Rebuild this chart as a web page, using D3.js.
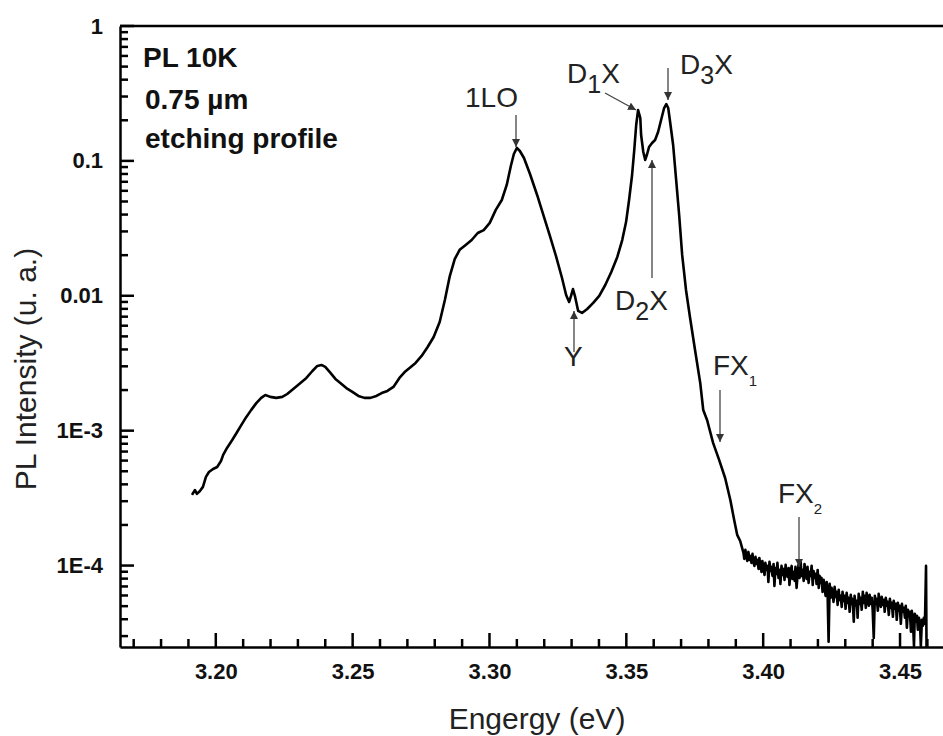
<!DOCTYPE html>
<html>
<head>
<meta charset="utf-8">
<script src="https://cdn.jsdelivr.net/npm/d3@7"></script>
<style>
  body { margin: 0; background: #fff; }
  svg { display: block; font-family: "Liberation Sans", Arial, sans-serif; }
</style>
</head>
<body>
<svg id="svg" width="943" height="736"></svg>
<script>
// PL spectrum, 10K
const energy = [
  3.1913, 3.1924, 3.1931, 3.1942, 3.1953, 3.1964, 3.1975, 3.1990, 3.2005, 3.2019,
  3.2027, 3.2041, 3.2060, 3.2078, 3.2093, 3.2111, 3.2129, 3.2148, 3.2166, 3.2181,
  3.2199, 3.2221, 3.2243, 3.2261, 3.2283, 3.2305, 3.2331, 3.2353, 3.2371, 3.2386,
  3.2400, 3.2419, 3.2437, 3.2455, 3.2477, 3.2499, 3.2521, 3.2543, 3.2565, 3.2587,
  3.2606, 3.2627, 3.2649, 3.2671, 3.2690, 3.2708, 3.2730, 3.2752, 3.2774, 3.2796,
  3.2818, 3.2837, 3.2855, 3.2873, 3.2891, 3.2913, 3.2935, 3.2957, 3.2979, 3.3001,
  3.3023, 3.3045, 3.3063, 3.3078, 3.3089, 3.3100, 3.3111, 3.3126, 3.3148, 3.3174,
  3.3199, 3.3221, 3.3243, 3.3265, 3.3280, 3.3291, 3.3298, 3.3305, 3.3313, 3.3324,
  3.3338, 3.3357, 3.3379, 3.3401, 3.3423, 3.3445, 3.3467, 3.3485, 3.3499, 3.3510,
  3.3521, 3.3529, 3.3536, 3.3543, 3.3551, 3.3554, 3.3562, 3.3569, 3.3576, 3.3583,
  3.3594, 3.3605, 3.3616, 3.3627, 3.3638, 3.3646, 3.3653, 3.3660, 3.3671, 3.3682,
  3.3693, 3.3704, 3.3718, 3.3733, 3.3751, 3.3770, 3.3781, 3.3795, 3.3817, 3.3839,
  3.3861, 3.3880, 3.3894, 3.3905, 3.3916
];
const intensity = [
  3.34e-4, 3.63e-4, 3.40e-4, 3.57e-4, 3.83e-4, 4.54e-4, 4.94e-4, 5.20e-4, 5.38e-4, 5.96e-4,
  6.61e-4, 7.44e-4, 8.53e-4, 9.78e-4, 1.10e-3, 1.26e-3, 1.42e-3, 1.60e-3, 1.75e-3, 1.84e-3,
  1.78e-3, 1.75e-3, 1.78e-3, 1.87e-3, 2.04e-3, 2.22e-3, 2.46e-3, 2.77e-3, 3.02e-3, 3.07e-3,
  2.97e-3, 2.68e-3, 2.42e-3, 2.26e-3, 2.07e-3, 1.94e-3, 1.81e-3, 1.75e-3, 1.75e-3, 1.81e-3,
  1.90e-3, 1.97e-3, 2.11e-3, 2.46e-3, 2.72e-3, 2.92e-3, 3.18e-3, 3.58e-3, 4.17e-3, 4.95e-3,
  6.39e-3, 9.30e-3, 1.40e-2, 1.87e-2, 2.19e-2, 2.38e-2, 2.59e-2, 2.92e-2, 3.07e-2, 3.47e-2,
  4.33e-2, 5.13e-2, 6.63e-2, 9.17e-2, 0.1125, 0.1247, 0.1184, 0.105, 0.080, 0.0559,
  0.0384, 0.0277, 0.0197, 0.01355, 0.01014, 0.0090, 0.00997, 0.01123, 0.0098, 0.00772,
  0.00746, 0.00798, 0.00885, 0.00997, 0.01202, 0.0150, 0.0194, 0.0259, 0.0352, 0.0513,
  0.0786, 0.1205, 0.1846, 0.2384, 0.208, 0.1556, 0.1164, 0.1016, 0.1125, 0.1268,
  0.1358, 0.1429, 0.1637, 0.201, 0.2466, 0.264, 0.2466, 0.1942, 0.1312, 0.0722,
  0.0397, 0.02007, 0.01104, 0.00684, 0.00396, 0.00226, 0.001423, 0.00120, 8.11e-4, 6.07e-4,
  4.46e-4, 3.06e-4, 2.18e-4, 1.69e-4, 1.52e-4
];
// noisy high-energy tail
const tailEnergy = [
  3.3928, 3.3931, 3.3935, 3.3939, 3.3942, 3.3946, 3.3950, 3.3953, 3.3957, 3.3961,
  3.3964, 3.3968, 3.3972, 3.3975, 3.3979, 3.3983, 3.3986, 3.3990, 3.3994, 3.3997,
  3.4001, 3.4005, 3.4008, 3.4012, 3.4016, 3.4019, 3.4023, 3.4027, 3.4030, 3.4034,
  3.4038, 3.4041, 3.4045, 3.4049, 3.4052, 3.4056, 3.4060, 3.4063, 3.4067, 3.4071,
  3.4074, 3.4078, 3.4082, 3.4085, 3.4089, 3.4093, 3.4096, 3.4100, 3.4104, 3.4107,
  3.4111, 3.4115, 3.4118, 3.4122, 3.4126, 3.4129, 3.4133, 3.4137, 3.4140, 3.4144,
  3.4148, 3.4151, 3.4155, 3.4159, 3.4162, 3.4166, 3.4170, 3.4173, 3.4177, 3.4181,
  3.4184, 3.4188, 3.4192, 3.4195, 3.4199, 3.4203, 3.4206, 3.4210, 3.4213, 3.4217,
  3.4221, 3.4224, 3.4228, 3.4232, 3.4235, 3.4239, 3.4243, 3.4246, 3.4250, 3.4254,
  3.4257, 3.4261, 3.4265, 3.4268, 3.4272, 3.4276, 3.4279, 3.4283, 3.4287, 3.4290,
  3.4294, 3.4298, 3.4301, 3.4305, 3.4309, 3.4312, 3.4316, 3.4320, 3.4323, 3.4327,
  3.4331, 3.4334, 3.4338, 3.4342, 3.4345, 3.4349, 3.4353, 3.4356, 3.4360, 3.4364,
  3.4367, 3.4371, 3.4375, 3.4378, 3.4382, 3.4386, 3.4389, 3.4393, 3.4397, 3.4400,
  3.4404, 3.4408, 3.4411, 3.4415, 3.4419, 3.4422, 3.4426, 3.4430, 3.4433, 3.4437,
  3.4441, 3.4444, 3.4448, 3.4452, 3.4455, 3.4459, 3.4463, 3.4466, 3.4470, 3.4474,
  3.4477, 3.4481, 3.4485, 3.4488, 3.4492, 3.4496, 3.4499, 3.4503, 3.4507, 3.4510,
  3.4514, 3.4518, 3.4521, 3.4525, 3.4529, 3.4532, 3.4536, 3.4540, 3.4543, 3.4547,
  3.4551, 3.4554, 3.4558, 3.4562, 3.4565, 3.4569, 3.4573, 3.4576, 3.4580, 3.4584,
  3.4587, 3.4591, 3.4595, 3.4598
];
// in units of 1e-4
const tailIntensity = [
  1.241, 1.120, 1.306, 1.159, 1.082, 1.262, 1.101, 1.179, 1.046, 1.220,
  1.064, 0.994, 1.159, 1.028, 1.101, 0.944, 1.139, 0.994, 0.897, 1.082,
  0.960, 0.852, 1.046, 0.928, 0.994, 0.756, 1.064, 0.912, 0.977, 0.838,
  1.028, 0.707, 0.960, 0.867, 1.046, 0.810, 0.928, 0.731, 0.994, 0.852,
  0.944, 0.783, 1.011, 0.882, 0.824, 0.960, 0.719, 0.912, 0.994, 0.796,
  0.897, 0.769, 0.977, 0.683, 0.867, 1.011, 0.810, 1.064, 0.838, 0.928,
  0.769, 1.028, 0.867, 0.796, 0.977, 0.744, 0.897, 0.838, 0.994, 0.719,
  0.912, 0.810, 0.867, 0.731, 0.928, 0.683, 0.838, 0.744, 0.810, 0.638,
  0.783, 0.707, 0.596, 0.756, 0.660, 0.272, 0.731, 0.576, 0.683, 0.617,
  0.538, 0.695, 0.586, 0.638, 0.511, 0.660, 0.557, 0.596, 0.494, 0.638,
  0.547, 0.596, 0.478, 0.627, 0.529, 0.576, 0.454, 0.606, 0.520, 0.566,
  0.383, 0.596, 0.503, 0.547, 0.410, 0.617, 0.520, 0.576, 0.470, 0.638,
  0.529, 0.596, 0.486, 0.627, 0.557, 0.503, 0.606, 0.520, 0.576, 0.470,
  0.291, 0.596, 0.520, 0.566, 0.462, 0.617, 0.529, 0.494, 0.586, 0.511,
  0.557, 0.454, 0.576, 0.503, 0.538, 0.431, 0.566, 0.486, 0.529, 0.417,
  0.547, 0.478, 0.520, 0.396, 0.529, 0.462, 0.503, 0.370, 0.520, 0.454,
  0.486, 0.410, 0.503, 0.346, 0.470, 0.424, 0.454, 0.323, 0.462, 0.396,
  0.254, 0.439, 0.383, 0.424, 0.334, 0.410, 0.370, 0.254, 0.396, 0.358,
  0.410, 0.370, 0.994, 0.100
];

const xMajor = [3.20, 3.25, 3.30, 3.35, 3.40, 3.45];
const xMinor = [3.17, 3.18, 3.19, 3.21, 3.22, 3.23, 3.24, 3.26, 3.27, 3.28, 3.29,
  3.31, 3.32, 3.33, 3.34, 3.36, 3.37, 3.38, 3.39, 3.41, 3.42, 3.43, 3.44, 3.46];
const yMajor = [1, 0.1, 0.01, 1e-3, 1e-4];
const yLabels = ["1", "0.1", "0.01", "1E-3", "1E-4"];

const margins = { top: 26, right: 0, bottom: 89, left: 120 };
const svg = d3.select("#svg");
const width = 943, height = 736;
const chartW = width - margins.left - margins.right;
const chartH = height - margins.top - margins.bottom;

const xScale = d3.scaleLinear().domain([3.165, 3.4657]).range([0, chartW]);
const yScale = d3.scaleLog().domain([2.49e-5, 1]).range([chartH, 0]);

const defs = svg.append("defs");
defs.append("clipPath").attr("id", "plotClip")
  .append("rect").attr("width", chartW).attr("height", chartH);

const g = svg.append("g").attr("transform", `translate(${margins.left},${margins.top})`);

// minor y ticks: 2..9 in each decade
const yMinor = [];
for (let e = -5; e < 0; e++) {
  for (let m = 2; m <= 9; m++) {
    const v = m * Math.pow(10, e);
    if (v > 2.49e-5 && v < 1) yMinor.push(v);
  }
}

// axes: labels + spine from d3
g.append("g")
  .attr("class", "xaxis")
  .attr("transform", `translate(0,${chartH})`)
  .call(d3.axisBottom(xScale).tickValues(xMajor).tickSize(0)
    .tickPadding(16).tickFormat(d3.format(".2f")));
g.append("g")
  .attr("class", "yaxis")
  .call(d3.axisLeft(yScale).tickValues(yMajor).tickSize(0)
    .tickPadding(17).tickFormat((d, i) => yLabels[i]));

g.selectAll(".domain").attr("stroke", "#000").attr("stroke-width", 2.5);
g.selectAll(".xaxis text, .yaxis text")
  .attr("fill", "#111")
  .style("font-size", "22px")
  .style("font-weight", "bold")
  .style("font-family", "'Liberation Sans', Arial, sans-serif");

// top frame
g.append("line")
  .attr("x1", 0).attr("x2", chartW).attr("y1", 0).attr("y2", 0)
  .attr("stroke", "#000").attr("stroke-width", 2.5);

// spectrum
const line = d3.line()
  .x(d => xScale(d[0]))
  .y(d => yScale(d[1]));

const mainData = energy.map((e, i) => [e, intensity[i]]);
const tailData = tailEnergy.map((e, i) => [e, tailIntensity[i] * 1e-4]);

const plot = g.append("g").attr("clip-path", "url(#plotClip)");
plot.append("path").datum(mainData.concat(tailData))
  .attr("fill", "none").attr("stroke", "#000")
  .attr("stroke-width", 2.6).attr("stroke-linejoin", "round")
  .attr("d", line);

// axis titles
svg.append("text")
  .attr("x", 537).attr("y", 729)
  .attr("text-anchor", "middle")
  .style("font-size", "30px").attr("fill", "#222")
  .text("Engergy (eV)");
svg.append("text")
  .attr("transform", "translate(36,369) rotate(-90)")
  .attr("text-anchor", "middle")
  .style("font-size", "30px").attr("fill", "#222")
  .text("PL Intensity (u. a.)");

// inset text
const inset = [["PL 10K", 143, 67], ["0.75 µm", 145, 109], ["etching profile", 145, 148]];
inset.forEach(([t, x, y]) => {
  svg.append("text").attr("x", x).attr("y", y)
    .style("font-size", "28px").style("font-weight", "bold").attr("fill", "#111")
    .text(t);
});

// arrows
defs.append("marker").attr("id", "head")
  .attr("viewBox", "0 0 10 10").attr("refX", 10).attr("refY", 5)
  .attr("markerWidth", 8).attr("markerHeight", 8)
  .attr("markerUnits", "userSpaceOnUse")
  .attr("orient", "auto")
  .append("path").attr("d", "M0,0 L10,5 L0,10 Z").attr("fill", "#333");

const arrows = [
  [516, 115, 516, 147],
  [605, 93, 636, 110],
  [668, 68, 668, 100],
  [652, 278, 652, 160],
  [574, 352, 574, 311],
  [720, 390, 720, 442],
  [799, 517, 799, 567]
];
arrows.forEach(([x1, y1, x2, y2]) => {
  svg.append("line")
    .attr("x1", x1).attr("y1", y1).attr("x2", x2).attr("y2", y2)
    .attr("stroke", "#444").attr("stroke-width", 1.3)
    .attr("marker-end", "url(#head)");
});

// peak labels, with subscripts
const labels = [
  ["1LO", "", "", 465, 107],
  ["D", "1", "X", 567, 83],
  ["D", "3", "X", 680, 74],
  ["D", "2", "X", 615, 310],
  ["Y", "", "", 564, 366],
  ["FX", "1", "", 713, 375],
  ["FX", "2", "", 778, 503]
];
labels.forEach(([a, sub, b, x, y]) => {
  const t = svg.append("text").attr("x", x).attr("y", y)
    .style("font-size", "28px").attr("fill", "#222");
  t.append("tspan").text(a);
  if (sub) {
    const small = b ? 25 : 15;
    t.append("tspan").attr("dy", b ? 10 : 11).style("font-size", small + "px").text(sub);
    if (b) t.append("tspan").attr("dy", -10).text(b);
  }
});

// inward tick marks, drawn last, from the scales
const tickG = svg.append("g").attr("transform", `translate(${margins.left},${margins.top})`);
tickG.selectAll(".xt").data(xMinor.map(v => [v, 8]).concat(xMajor.map(v => [v, 14])))
  .join("line")
  .attr("x1", d => xScale(d[0])).attr("x2", d => xScale(d[0]))
  .attr("y1", chartH).attr("y2", d => chartH - d[1])
  .attr("stroke", "#000").attr("stroke-width", 2.5);
tickG.selectAll(".yt").data(yMinor.map(v => [v, 8]).concat(yMajor.map(v => [v, 14])))
  .join("line")
  .attr("x1", 0).attr("x2", d => d[1])
  .attr("y1", d => yScale(d[0])).attr("y2", d => yScale(d[0]))
  .attr("stroke", "#000").attr("stroke-width", 2.5);
</script>
</body>
</html>
